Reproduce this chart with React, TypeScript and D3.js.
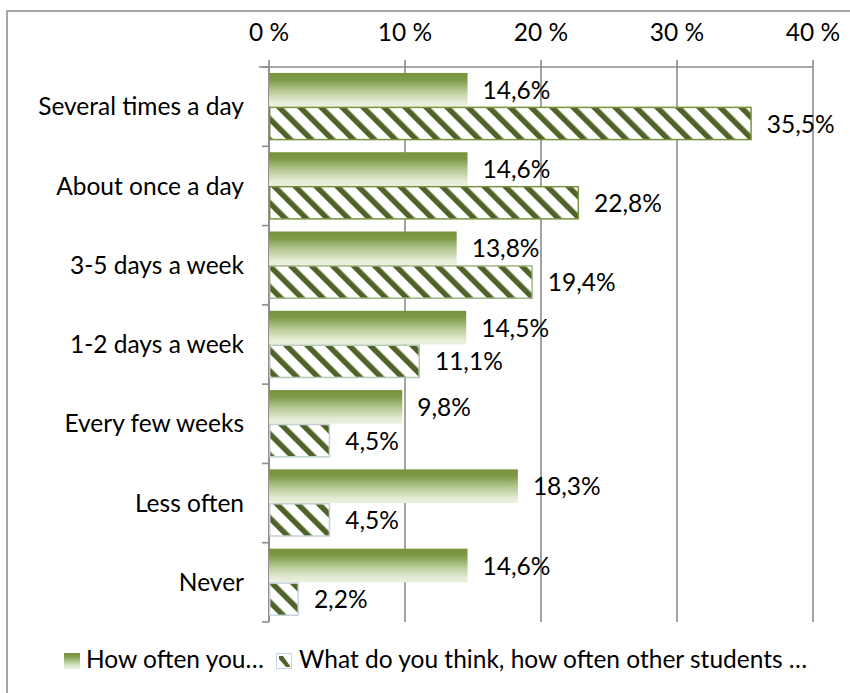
import React from "react";
import * as d3 from "d3";

const categories = [
  "Several times a day",
  "About once a day",
  "3-5 days a week",
  "1-2 days a week",
  "Every few weeks",
  "Less often",
  "Never",
];
const howOftenYou = [14.6, 14.6, 13.8, 14.5, 9.8, 18.3, 14.6];
const otherStudents = [35.5, 22.8, 19.4, 11.1, 4.5, 4.5, 2.2];
const xTicks = [0, 10, 20, 30, 40];
const seriesNames = [
  "How often you…",
  "What do you think, how often other students …",
];

const W = 850;
const H = 693;
const FONT = "Lato, 'Open Sans', sans-serif";
const FS = 24.5;

export default function App() {
  const left = 269;
  const right = 813;
  const top = 67;
  const bottom = 622;

  const x = d3.scaleLinear().domain([0, 40]).range([left, right]);
  const y = d3
    .scaleBand<string>()
    .domain(categories)
    .range([top, bottom])
    .paddingInner(0)
    .paddingOuter(0);
  const bw = y.bandwidth();
  const barH = bw * 0.425;
  const off = (bw - 2 * barH) / 2;

  const fmt = (v: number) => v.toFixed(1).replace(".", ",") + "%";
  const borderColor = d3
    .scaleLinear<string>()
    .domain([2, 12, 20, 23])
    .range(["#c5d4e4", "#b5c8ad", "#9fb57f", "#77933c"])
    .clamp(true);

  return (
    <svg
      width={W}
      height={H}
      style={{ position: "absolute", left: 0, top: 0 }}
      fontFamily={FONT}
    >
      <defs>
        <linearGradient id="solidGrad" x1="0" y1="0" x2="0" y2="1">
          <stop offset="0" stopColor="#77933c" />
          <stop offset="0.2" stopColor="#7f9a47" />
          <stop offset="0.55" stopColor="#b8cb98" />
          <stop offset="0.85" stopColor="#e3ebd4" />
          <stop offset="1" stopColor="#ebf1de" />
        </linearGradient>
        <pattern
          id="hatch"
          patternUnits="userSpaceOnUse"
          width="14.85"
          height="14.85"
          patternTransform="rotate(-45)"
        >
          <rect width="14.85" height="14.85" fill="#ffffff" />
          <rect x="0" y="0" width="5.5" height="14.85" fill="#4f6228" />
        </pattern>
      </defs>

      <rect x={0} y={0} width={W} height={H} fill="#ffffff" />
      <rect
        x={7}
        y={11}
        width={W + 10}
        height={H + 10}
        fill="none"
        stroke="#8a8a8a"
        strokeWidth={1.5}
      />

      {/* gridlines */}
      {xTicks.map((t) => (
        <line
          key={"g" + t}
          x1={x(t)}
          x2={x(t)}
          y1={top - 7}
          y2={bottom}
          stroke="#8c8c8c"
          strokeWidth={1.6}
        />
      ))}
      {/* top axis */}
      <line
        x1={left - 10}
        x2={right}
        y1={top}
        y2={top}
        stroke="#8c8c8c"
        strokeWidth={1.6}
      />
      {xTicks.map((t) => (
        <text
          key={"t" + t}
          x={x(t)}
          y={41}
          textAnchor="middle"
          fontSize={FS}
          fill="#000"
        >
          {t + " %"}
        </text>
      ))}

      {/* left axis */}
      <line
        x1={left}
        x2={left}
        y1={top}
        y2={bottom}
        stroke="#8c8c8c"
        strokeWidth={1.6}
      />
      {d3.range(categories.length + 1).map((i) => {
        const yy = top + i * bw;
        return (
          <line
            key={"lt" + i}
            x1={left - 7}
            x2={left}
            y1={yy}
            y2={yy}
            stroke="#8c8c8c"
            strokeWidth={1.6}
          />
        );
      })}

      {categories.map((c, i) => {
        const y0 = y(c)!;
        const v1 = howOftenYou[i];
        const v2 = otherStudents[i];
        return (
          <g key={c}>
            <text
              x={244}
              y={y0 + bw / 2}
              dy="0.35em"
              textAnchor="end"
              fontSize={FS}
              fill="#000"
            >
              {c}
            </text>
            <rect
              x={x(0)}
              y={y0 + off}
              width={x(v1) - x(0)}
              height={barH}
              fill="url(#solidGrad)"
            />
            <rect
              x={x(0) + 0.75}
              y={y0 + off + barH + 0.75}
              width={x(v2) - x(0) - 1.5}
              height={barH - 1.5}
              fill="url(#hatch)"
              stroke={borderColor(v2)}
              strokeWidth={1.5}
            />
            <text
              x={x(v1) + 15}
              y={y0 + off + barH / 2}
              dy="0.37em"
              fontSize={FS}
              fill="#000"
            >
              {fmt(v1)}
            </text>
            <text
              x={x(v2) + 15}
              y={y0 + off + barH * 1.5}
              dy="0.37em"
              fontSize={FS}
              fill="#000"
            >
              {fmt(v2)}
            </text>
          </g>
        );
      })}

      {/* legend */}
      <rect x={64} y={653} width={16} height={16} fill="url(#solidGrad)" />
      <text x={86} y={668} fontSize={FS} fill="#000">
        {seriesNames[0]}
      </text>
      <rect
        x={276.5}
        y={653.5}
        width={15}
        height={15}
        fill="#ffffff"
        stroke="#c5d4e4"
        strokeWidth={1}
      />
      <path
        d="M279,656 L283,656 L290,666 L290,667 L286,667 L279,659 Z"
        fill="#4f6228"
      />
      <text x={299} y={668} fontSize={FS} fill="#000">
        {seriesNames[1]}
      </text>
    </svg>
  );
}
